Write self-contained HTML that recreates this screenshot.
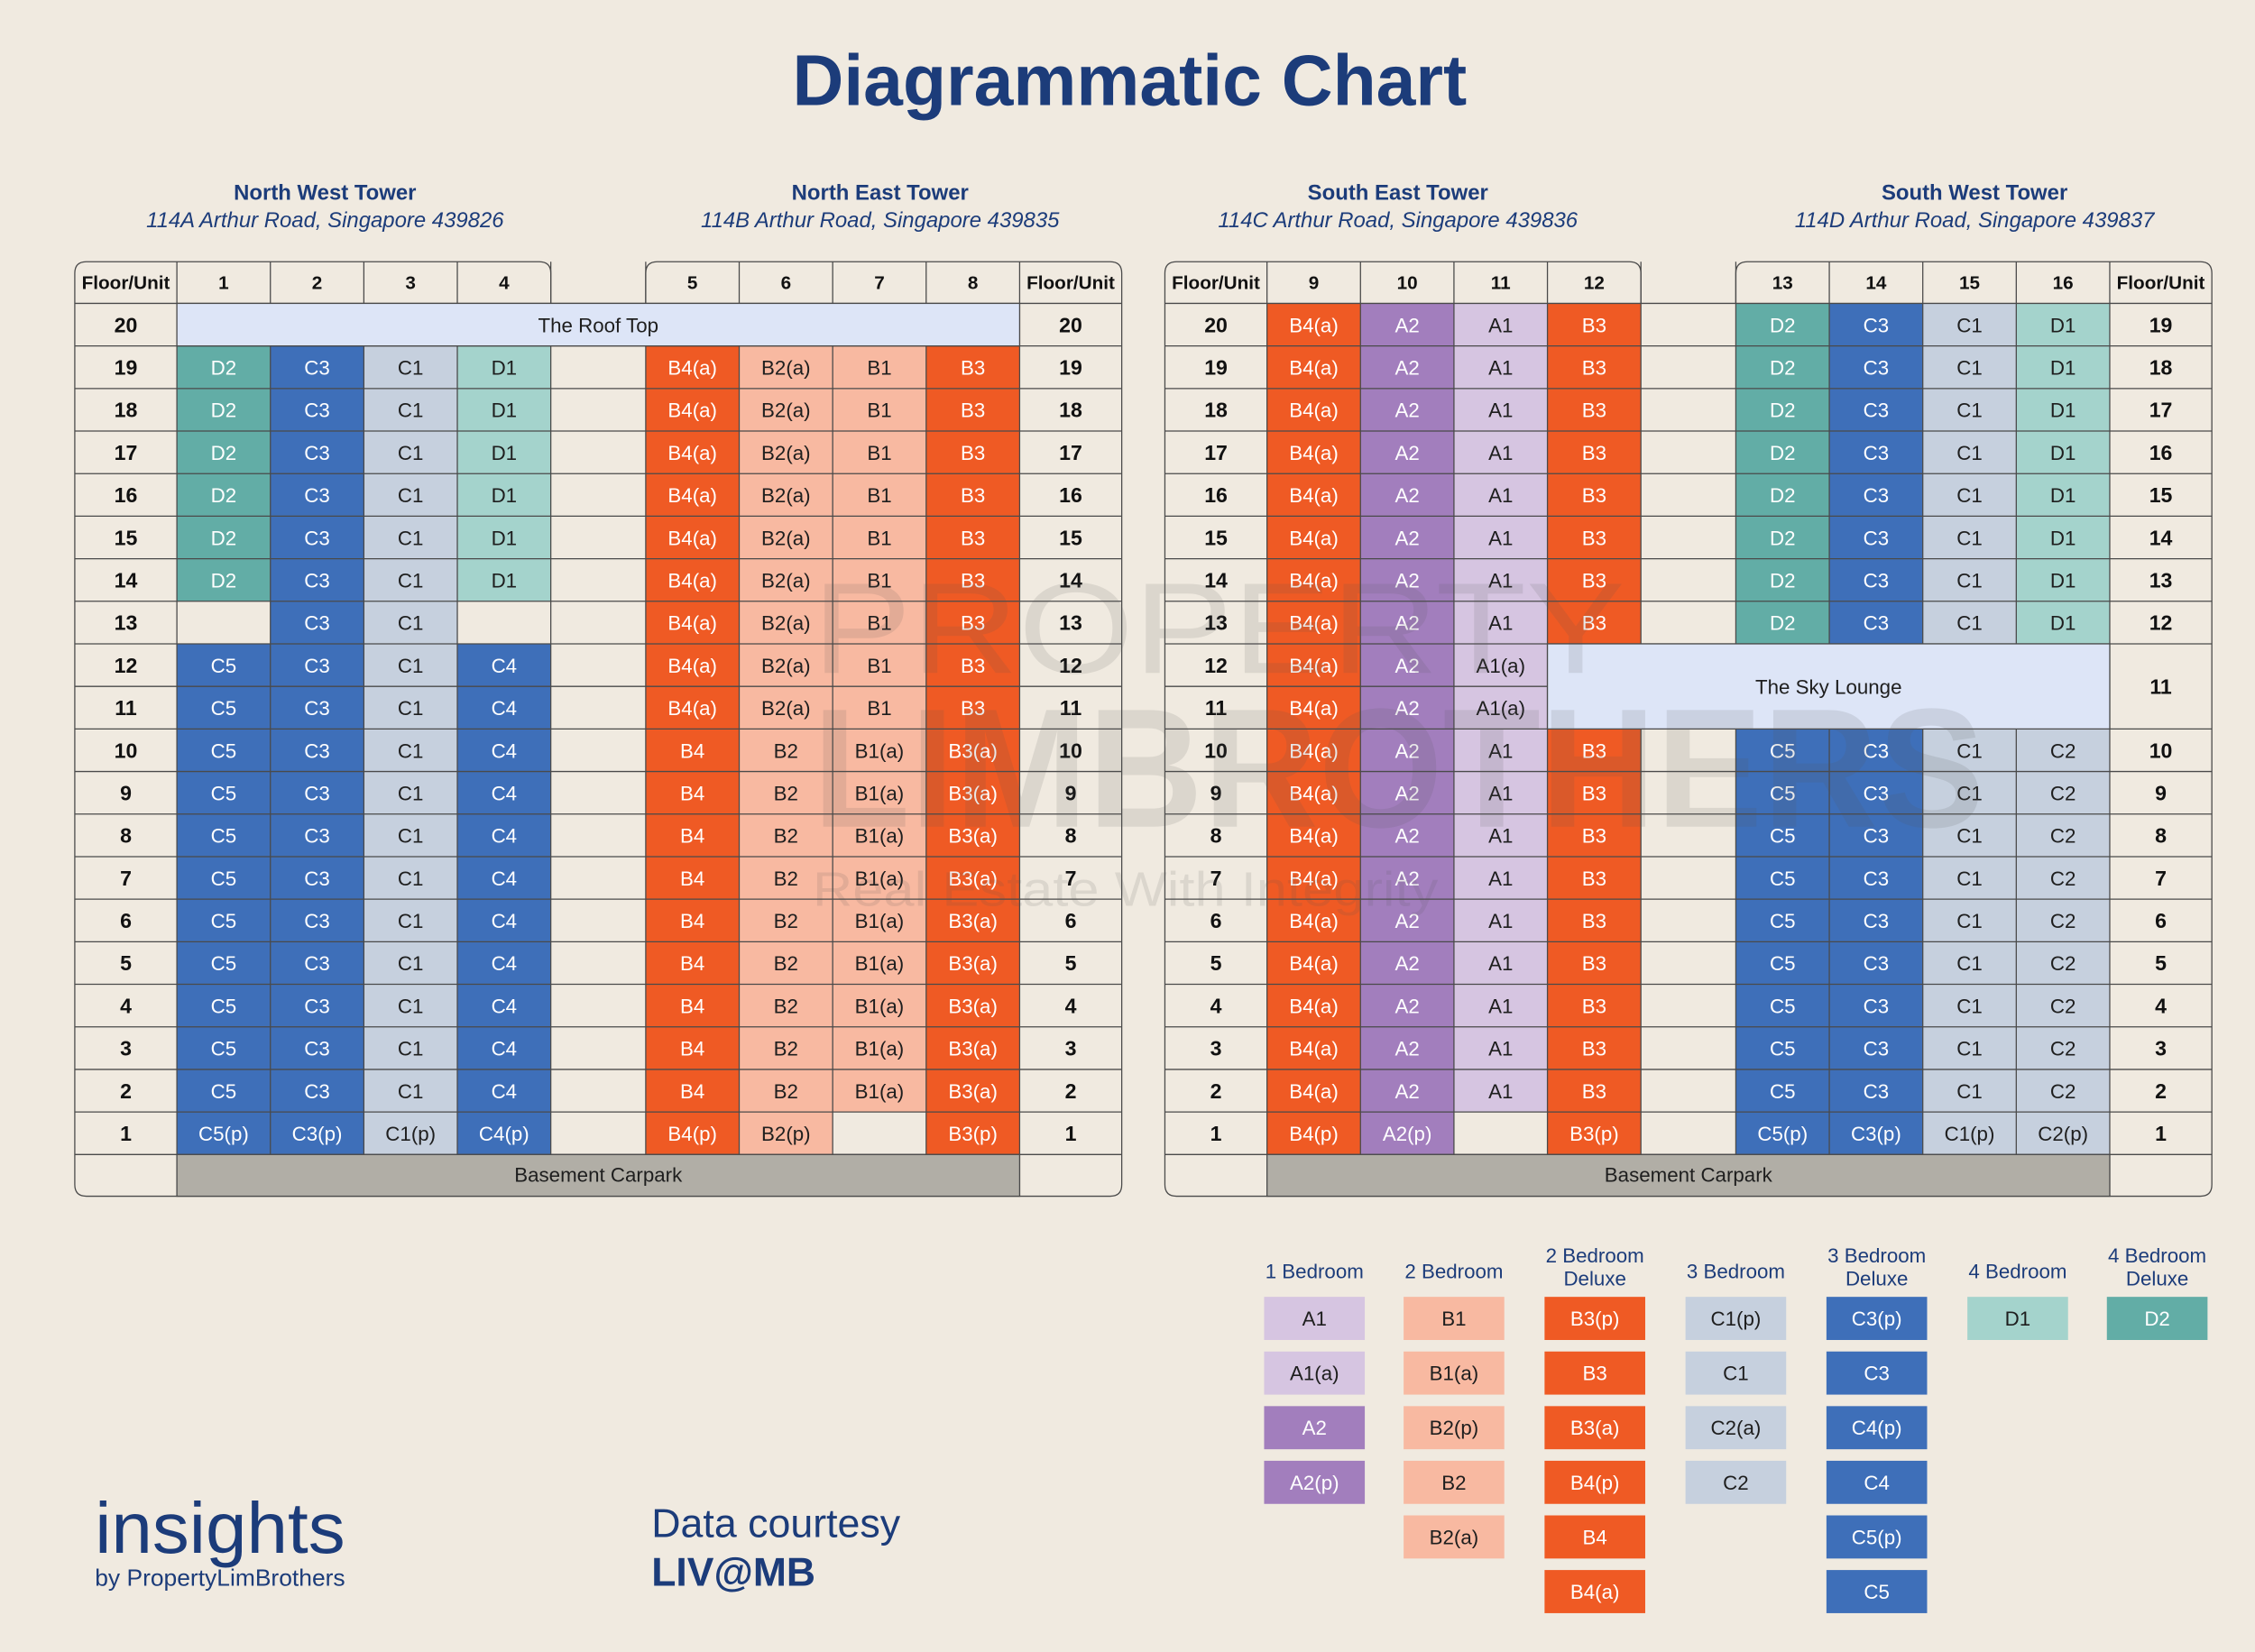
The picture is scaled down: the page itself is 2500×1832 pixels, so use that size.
<!DOCTYPE html>
<html><head><meta charset="utf-8"><style>
html,body{margin:0;padding:0;background:#f0eae0;}
svg{display:block}
text{font-family:"Liberation Sans",sans-serif;}
.c{font-size:14px;text-anchor:middle;}
.w{fill:#fff}
.d{fill:#1e1e1e}
.f{font-size:14.5px;font-weight:bold;text-anchor:middle;fill:#111}
.h{font-size:13px;font-weight:bold;text-anchor:middle;fill:#111}
.n{fill:#1c3c7a}
.ln{stroke:#4a4a4a;stroke-width:0.8;fill:none}
</style></head><body>
<svg width="2500" height="1832" viewBox="0 0 1568 1149" xmlns="http://www.w3.org/2000/svg">
<rect width="1568" height="1149" fill="#f0eae0"/>
<text x="785.5" y="73" font-size="50" font-weight="bold" text-anchor="middle" class="n" textLength="469" lengthAdjust="spacingAndGlyphs">Diagrammatic Chart</text>
<g class="n" text-anchor="middle">
<text x="226" y="139" font-size="15" font-weight="bold">North West Tower</text>
<text x="226" y="158" font-size="15" font-style="italic">114A Arthur Road, Singapore 439826</text>
<text x="612" y="139" font-size="15" font-weight="bold">North East Tower</text>
<text x="612" y="158" font-size="15" font-style="italic">114B Arthur Road, Singapore 439835</text>
<text x="972" y="139" font-size="15" font-weight="bold">South East Tower</text>
<text x="972" y="158" font-size="15" font-style="italic">114C Arthur Road, Singapore 439836</text>
<text x="1373" y="139" font-size="15" font-weight="bold">South West Tower</text>
<text x="1373" y="158" font-size="15" font-style="italic">114D Arthur Road, Singapore 439837</text>
</g>

<!-- fills left -->
<rect x="123" y="240.6" width="65" height="177.6" fill="#62ada6"/>
<rect x="123" y="447.8" width="65" height="355.2" fill="#3e6fb9"/>
<rect x="188" y="240.6" width="65" height="562.4" fill="#3e6fb9"/>
<rect x="253" y="240.6" width="65" height="562.4" fill="#c6d0de"/>
<rect x="318" y="240.6" width="65" height="177.6" fill="#a4d3cc"/>
<rect x="318" y="447.8" width="65" height="355.2" fill="#3e6fb9"/>
<rect x="449" y="240.6" width="65" height="562.4" fill="#ef5a24"/>
<rect x="514" y="240.6" width="65" height="562.4" fill="#f8b9a1"/>
<rect x="579" y="240.6" width="65" height="532.8" fill="#f8b9a1"/>
<rect x="644" y="240.6" width="65" height="562.4" fill="#ef5a24"/>
<!-- fills right -->
<rect x="881" y="211" width="65" height="592" fill="#ef5a24"/>
<rect x="946" y="211" width="65" height="592" fill="#a27ebd"/>
<rect x="1011" y="211" width="65" height="562.4" fill="#d6c5e1"/>
<rect x="1076" y="211" width="65" height="236.8" fill="#ef5a24"/>
<rect x="1076" y="507" width="65" height="296" fill="#ef5a24"/>
<rect x="1207" y="211" width="65" height="236.8" fill="#62ada6"/>
<rect x="1207" y="507" width="65" height="296" fill="#3e6fb9"/>
<rect x="1272" y="211" width="65" height="236.8" fill="#3e6fb9"/>
<rect x="1272" y="507" width="65" height="296" fill="#3e6fb9"/>
<rect x="1337" y="211" width="65" height="236.8" fill="#c6d0de"/>
<rect x="1337" y="507" width="65" height="296" fill="#c6d0de"/>
<rect x="1402" y="211" width="65" height="236.8" fill="#a4d3cc"/>
<rect x="1402" y="507" width="65" height="296" fill="#c6d0de"/>

<!-- grid lines -->
<g class="ln">
<path d="M52 211H780M52 240.6H780M52 270.2H780M52 299.8H780M52 329.4H780M52 359H780M52 388.6H780M52 418.2H780M52 447.8H780M52 477.4H780M52 507H780M52 536.6H780M52 566.2H780M52 595.8H780M52 625.4H780M52 655H780M52 684.6H780M52 714.2H780M52 743.8H780M52 773.4H780M52 803H780"/>
<path d="M810 211H1538M810 240.6H1538M810 270.2H1538M810 299.8H1538M810 329.4H1538M810 359H1538M810 388.6H1538M810 418.2H1538M810 447.8H1538M810 477.4H1076M810 507H1538M810 536.6H1538M810 566.2H1538M810 595.8H1538M810 625.4H1538M810 655H1538M810 684.6H1538M810 714.2H1538M810 743.8H1538M810 773.4H1538M810 803H1538"/>
<path d="M123 182V832M188 182V803M253 182V803M318 182V803M383 182V803M449 182V803M514 182V803M579 182V803M644 182V803M709 182V832"/>
<path d="M881 182V832M946 182V803M1011 182V803M1076 182V803M1141 182V803M1207 182V803M1272 182V803M1337 182V803M1402 182V803M1467 182V832"/>
<path d="M52 211V824Q52 832 60 832H772Q780 832 780 824V211"/>
<path d="M52 211V190Q52 182 60 182H375Q383 182 383 190V211M449 211V190Q449 182 457 182H772Q780 182 780 190V211"/>
<path d="M810 211V824Q810 832 818 832H1530Q1538 832 1538 824V211"/>
<path d="M810 211V190Q810 182 818 182H1133Q1141 182 1141 190V211M1207 211V190Q1207 182 1215 182H1530Q1538 182 1538 190V211"/>
</g>
<rect x="123" y="211" width="586" height="29.6" fill="#dde5f7" stroke="#4a4a4a" stroke-width="0.8"/>
<rect x="123" y="803" width="586" height="29" fill="#b1aea6" stroke="#4a4a4a" stroke-width="0.8"/>
<rect x="881" y="803" width="586" height="29" fill="#b1aea6" stroke="#4a4a4a" stroke-width="0.8"/>
<rect x="1076" y="447.8" width="391" height="59.2" fill="#dde5f7" stroke="#4a4a4a" stroke-width="0.8"/>
<text x="1271.5" y="482.5" class="c d" font-size="16">The Sky Lounge</text>
<text x="416" y="231" class="c d" font-size="16">The Roof Top</text>
<text x="416" y="822" class="c d" font-size="15">Basement Carpark</text>
<text x="1174" y="822" class="c d" font-size="15">Basement Carpark</text>

<!-- headers -->
<g class="h">
<text x="87.5" y="201">Floor/Unit</text><text x="155.5" y="201">1</text><text x="220.5" y="201">2</text><text x="285.5" y="201">3</text><text x="350.5" y="201">4</text>
<text x="481.5" y="201">5</text><text x="546.5" y="201">6</text><text x="611.5" y="201">7</text><text x="676.5" y="201">8</text><text x="744.5" y="201">Floor/Unit</text>
<text x="845.5" y="201">Floor/Unit</text><text x="913.5" y="201">9</text><text x="978.5" y="201">10</text><text x="1043.5" y="201">11</text><text x="1108.5" y="201">12</text>
<text x="1239.5" y="201">13</text><text x="1304.5" y="201">14</text><text x="1369.5" y="201">15</text><text x="1434.5" y="201">16</text><text x="1502.5" y="201">Floor/Unit</text>
</g>
<!-- floor labels -->
<g class="f">
<text x="87.5"><tspan x="87.5" y="231">20</tspan><tspan x="87.5" y="260.6">19</tspan><tspan x="87.5" y="290.2">18</tspan><tspan x="87.5" y="319.8">17</tspan><tspan x="87.5" y="349.4">16</tspan><tspan x="87.5" y="379">15</tspan><tspan x="87.5" y="408.6">14</tspan><tspan x="87.5" y="438.2">13</tspan><tspan x="87.5" y="467.8">12</tspan><tspan x="87.5" y="497.4">11</tspan><tspan x="87.5" y="527">10</tspan><tspan x="87.5" y="556.6">9</tspan><tspan x="87.5" y="586.2">8</tspan><tspan x="87.5" y="615.8">7</tspan><tspan x="87.5" y="645.4">6</tspan><tspan x="87.5" y="675">5</tspan><tspan x="87.5" y="704.6">4</tspan><tspan x="87.5" y="734.2">3</tspan><tspan x="87.5" y="763.8">2</tspan><tspan x="87.5" y="793.4">1</tspan></text>
<text x="744.5"><tspan x="744.5" y="231">20</tspan><tspan x="744.5" y="260.6">19</tspan><tspan x="744.5" y="290.2">18</tspan><tspan x="744.5" y="319.8">17</tspan><tspan x="744.5" y="349.4">16</tspan><tspan x="744.5" y="379">15</tspan><tspan x="744.5" y="408.6">14</tspan><tspan x="744.5" y="438.2">13</tspan><tspan x="744.5" y="467.8">12</tspan><tspan x="744.5" y="497.4">11</tspan><tspan x="744.5" y="527">10</tspan><tspan x="744.5" y="556.6">9</tspan><tspan x="744.5" y="586.2">8</tspan><tspan x="744.5" y="615.8">7</tspan><tspan x="744.5" y="645.4">6</tspan><tspan x="744.5" y="675">5</tspan><tspan x="744.5" y="704.6">4</tspan><tspan x="744.5" y="734.2">3</tspan><tspan x="744.5" y="763.8">2</tspan><tspan x="744.5" y="793.4">1</tspan></text>
<text x="845.5"><tspan x="845.5" y="231">20</tspan><tspan x="845.5" y="260.6">19</tspan><tspan x="845.5" y="290.2">18</tspan><tspan x="845.5" y="319.8">17</tspan><tspan x="845.5" y="349.4">16</tspan><tspan x="845.5" y="379">15</tspan><tspan x="845.5" y="408.6">14</tspan><tspan x="845.5" y="438.2">13</tspan><tspan x="845.5" y="467.8">12</tspan><tspan x="845.5" y="497.4">11</tspan><tspan x="845.5" y="527">10</tspan><tspan x="845.5" y="556.6">9</tspan><tspan x="845.5" y="586.2">8</tspan><tspan x="845.5" y="615.8">7</tspan><tspan x="845.5" y="645.4">6</tspan><tspan x="845.5" y="675">5</tspan><tspan x="845.5" y="704.6">4</tspan><tspan x="845.5" y="734.2">3</tspan><tspan x="845.5" y="763.8">2</tspan><tspan x="845.5" y="793.4">1</tspan></text>
<text x="1502.5"><tspan x="1502.5" y="231">19</tspan><tspan x="1502.5" y="260.6">18</tspan><tspan x="1502.5" y="290.2">17</tspan><tspan x="1502.5" y="319.8">16</tspan><tspan x="1502.5" y="349.4">15</tspan><tspan x="1502.5" y="379">14</tspan><tspan x="1502.5" y="408.6">13</tspan><tspan x="1502.5" y="438.2">12</tspan><tspan x="1502.5" y="482.6">11</tspan><tspan x="1502.5" y="527">10</tspan><tspan x="1502.5" y="556.6">9</tspan><tspan x="1502.5" y="586.2">8</tspan><tspan x="1502.5" y="615.8">7</tspan><tspan x="1502.5" y="645.4">6</tspan><tspan x="1502.5" y="675">5</tspan><tspan x="1502.5" y="704.6">4</tspan><tspan x="1502.5" y="734.2">3</tspan><tspan x="1502.5" y="763.8">2</tspan><tspan x="1502.5" y="793.4">1</tspan></text>
</g>

<!-- NW cells -->
<text class="c w"><tspan x="155.5" y="260.6">D2</tspan><tspan x="155.5" y="290.2">D2</tspan><tspan x="155.5" y="319.8">D2</tspan><tspan x="155.5" y="349.4">D2</tspan><tspan x="155.5" y="379">D2</tspan><tspan x="155.5" y="408.6">D2</tspan><tspan x="155.5" y="467.8">C5</tspan><tspan x="155.5" y="497.4">C5</tspan><tspan x="155.5" y="527">C5</tspan><tspan x="155.5" y="556.6">C5</tspan><tspan x="155.5" y="586.2">C5</tspan><tspan x="155.5" y="615.8">C5</tspan><tspan x="155.5" y="645.4">C5</tspan><tspan x="155.5" y="675">C5</tspan><tspan x="155.5" y="704.6">C5</tspan><tspan x="155.5" y="734.2">C5</tspan><tspan x="155.5" y="763.8">C5</tspan><tspan x="155.5" y="793.4">C5(p)</tspan></text>
<text class="c w"><tspan x="220.5" y="260.6">C3</tspan><tspan x="220.5" y="290.2">C3</tspan><tspan x="220.5" y="319.8">C3</tspan><tspan x="220.5" y="349.4">C3</tspan><tspan x="220.5" y="379">C3</tspan><tspan x="220.5" y="408.6">C3</tspan><tspan x="220.5" y="438.2">C3</tspan><tspan x="220.5" y="467.8">C3</tspan><tspan x="220.5" y="497.4">C3</tspan><tspan x="220.5" y="527">C3</tspan><tspan x="220.5" y="556.6">C3</tspan><tspan x="220.5" y="586.2">C3</tspan><tspan x="220.5" y="615.8">C3</tspan><tspan x="220.5" y="645.4">C3</tspan><tspan x="220.5" y="675">C3</tspan><tspan x="220.5" y="704.6">C3</tspan><tspan x="220.5" y="734.2">C3</tspan><tspan x="220.5" y="763.8">C3</tspan><tspan x="220.5" y="793.4">C3(p)</tspan></text>
<text class="c d"><tspan x="285.5" y="260.6">C1</tspan><tspan x="285.5" y="290.2">C1</tspan><tspan x="285.5" y="319.8">C1</tspan><tspan x="285.5" y="349.4">C1</tspan><tspan x="285.5" y="379">C1</tspan><tspan x="285.5" y="408.6">C1</tspan><tspan x="285.5" y="438.2">C1</tspan><tspan x="285.5" y="467.8">C1</tspan><tspan x="285.5" y="497.4">C1</tspan><tspan x="285.5" y="527">C1</tspan><tspan x="285.5" y="556.6">C1</tspan><tspan x="285.5" y="586.2">C1</tspan><tspan x="285.5" y="615.8">C1</tspan><tspan x="285.5" y="645.4">C1</tspan><tspan x="285.5" y="675">C1</tspan><tspan x="285.5" y="704.6">C1</tspan><tspan x="285.5" y="734.2">C1</tspan><tspan x="285.5" y="763.8">C1</tspan><tspan x="285.5" y="793.4">C1(p)</tspan></text>
<text class="c d"><tspan x="350.5" y="260.6">D1</tspan><tspan x="350.5" y="290.2">D1</tspan><tspan x="350.5" y="319.8">D1</tspan><tspan x="350.5" y="349.4">D1</tspan><tspan x="350.5" y="379">D1</tspan><tspan x="350.5" y="408.6">D1</tspan></text>
<text class="c w"><tspan x="350.5" y="467.8">C4</tspan><tspan x="350.5" y="497.4">C4</tspan><tspan x="350.5" y="527">C4</tspan><tspan x="350.5" y="556.6">C4</tspan><tspan x="350.5" y="586.2">C4</tspan><tspan x="350.5" y="615.8">C4</tspan><tspan x="350.5" y="645.4">C4</tspan><tspan x="350.5" y="675">C4</tspan><tspan x="350.5" y="704.6">C4</tspan><tspan x="350.5" y="734.2">C4</tspan><tspan x="350.5" y="763.8">C4</tspan><tspan x="350.5" y="793.4">C4(p)</tspan></text>
<!-- NE cells -->
<text class="c w"><tspan x="481.5" y="260.6">B4(a)</tspan><tspan x="481.5" y="290.2">B4(a)</tspan><tspan x="481.5" y="319.8">B4(a)</tspan><tspan x="481.5" y="349.4">B4(a)</tspan><tspan x="481.5" y="379">B4(a)</tspan><tspan x="481.5" y="408.6">B4(a)</tspan><tspan x="481.5" y="438.2">B4(a)</tspan><tspan x="481.5" y="467.8">B4(a)</tspan><tspan x="481.5" y="497.4">B4(a)</tspan><tspan x="481.5" y="527">B4</tspan><tspan x="481.5" y="556.6">B4</tspan><tspan x="481.5" y="586.2">B4</tspan><tspan x="481.5" y="615.8">B4</tspan><tspan x="481.5" y="645.4">B4</tspan><tspan x="481.5" y="675">B4</tspan><tspan x="481.5" y="704.6">B4</tspan><tspan x="481.5" y="734.2">B4</tspan><tspan x="481.5" y="763.8">B4</tspan><tspan x="481.5" y="793.4">B4(p)</tspan></text>
<text class="c d"><tspan x="546.5" y="260.6">B2(a)</tspan><tspan x="546.5" y="290.2">B2(a)</tspan><tspan x="546.5" y="319.8">B2(a)</tspan><tspan x="546.5" y="349.4">B2(a)</tspan><tspan x="546.5" y="379">B2(a)</tspan><tspan x="546.5" y="408.6">B2(a)</tspan><tspan x="546.5" y="438.2">B2(a)</tspan><tspan x="546.5" y="467.8">B2(a)</tspan><tspan x="546.5" y="497.4">B2(a)</tspan><tspan x="546.5" y="527">B2</tspan><tspan x="546.5" y="556.6">B2</tspan><tspan x="546.5" y="586.2">B2</tspan><tspan x="546.5" y="615.8">B2</tspan><tspan x="546.5" y="645.4">B2</tspan><tspan x="546.5" y="675">B2</tspan><tspan x="546.5" y="704.6">B2</tspan><tspan x="546.5" y="734.2">B2</tspan><tspan x="546.5" y="763.8">B2</tspan><tspan x="546.5" y="793.4">B2(p)</tspan></text>
<text class="c d"><tspan x="611.5" y="260.6">B1</tspan><tspan x="611.5" y="290.2">B1</tspan><tspan x="611.5" y="319.8">B1</tspan><tspan x="611.5" y="349.4">B1</tspan><tspan x="611.5" y="379">B1</tspan><tspan x="611.5" y="408.6">B1</tspan><tspan x="611.5" y="438.2">B1</tspan><tspan x="611.5" y="467.8">B1</tspan><tspan x="611.5" y="497.4">B1</tspan><tspan x="611.5" y="527">B1(a)</tspan><tspan x="611.5" y="556.6">B1(a)</tspan><tspan x="611.5" y="586.2">B1(a)</tspan><tspan x="611.5" y="615.8">B1(a)</tspan><tspan x="611.5" y="645.4">B1(a)</tspan><tspan x="611.5" y="675">B1(a)</tspan><tspan x="611.5" y="704.6">B1(a)</tspan><tspan x="611.5" y="734.2">B1(a)</tspan><tspan x="611.5" y="763.8">B1(a)</tspan></text>
<text class="c w"><tspan x="676.5" y="260.6">B3</tspan><tspan x="676.5" y="290.2">B3</tspan><tspan x="676.5" y="319.8">B3</tspan><tspan x="676.5" y="349.4">B3</tspan><tspan x="676.5" y="379">B3</tspan><tspan x="676.5" y="408.6">B3</tspan><tspan x="676.5" y="438.2">B3</tspan><tspan x="676.5" y="467.8">B3</tspan><tspan x="676.5" y="497.4">B3</tspan><tspan x="676.5" y="527">B3(a)</tspan><tspan x="676.5" y="556.6">B3(a)</tspan><tspan x="676.5" y="586.2">B3(a)</tspan><tspan x="676.5" y="615.8">B3(a)</tspan><tspan x="676.5" y="645.4">B3(a)</tspan><tspan x="676.5" y="675">B3(a)</tspan><tspan x="676.5" y="704.6">B3(a)</tspan><tspan x="676.5" y="734.2">B3(a)</tspan><tspan x="676.5" y="763.8">B3(a)</tspan><tspan x="676.5" y="793.4">B3(p)</tspan></text>
<!-- SE cells -->
<text class="c w"><tspan x="913.5" y="231">B4(a)</tspan><tspan x="913.5" y="260.6">B4(a)</tspan><tspan x="913.5" y="290.2">B4(a)</tspan><tspan x="913.5" y="319.8">B4(a)</tspan><tspan x="913.5" y="349.4">B4(a)</tspan><tspan x="913.5" y="379">B4(a)</tspan><tspan x="913.5" y="408.6">B4(a)</tspan><tspan x="913.5" y="438.2">B4(a)</tspan><tspan x="913.5" y="467.8">B4(a)</tspan><tspan x="913.5" y="497.4">B4(a)</tspan><tspan x="913.5" y="527">B4(a)</tspan><tspan x="913.5" y="556.6">B4(a)</tspan><tspan x="913.5" y="586.2">B4(a)</tspan><tspan x="913.5" y="615.8">B4(a)</tspan><tspan x="913.5" y="645.4">B4(a)</tspan><tspan x="913.5" y="675">B4(a)</tspan><tspan x="913.5" y="704.6">B4(a)</tspan><tspan x="913.5" y="734.2">B4(a)</tspan><tspan x="913.5" y="763.8">B4(a)</tspan><tspan x="913.5" y="793.4">B4(p)</tspan></text>
<text class="c w"><tspan x="978.5" y="231">A2</tspan><tspan x="978.5" y="260.6">A2</tspan><tspan x="978.5" y="290.2">A2</tspan><tspan x="978.5" y="319.8">A2</tspan><tspan x="978.5" y="349.4">A2</tspan><tspan x="978.5" y="379">A2</tspan><tspan x="978.5" y="408.6">A2</tspan><tspan x="978.5" y="438.2">A2</tspan><tspan x="978.5" y="467.8">A2</tspan><tspan x="978.5" y="497.4">A2</tspan><tspan x="978.5" y="527">A2</tspan><tspan x="978.5" y="556.6">A2</tspan><tspan x="978.5" y="586.2">A2</tspan><tspan x="978.5" y="615.8">A2</tspan><tspan x="978.5" y="645.4">A2</tspan><tspan x="978.5" y="675">A2</tspan><tspan x="978.5" y="704.6">A2</tspan><tspan x="978.5" y="734.2">A2</tspan><tspan x="978.5" y="763.8">A2</tspan><tspan x="978.5" y="793.4">A2(p)</tspan></text>
<text class="c d"><tspan x="1043.5" y="231">A1</tspan><tspan x="1043.5" y="260.6">A1</tspan><tspan x="1043.5" y="290.2">A1</tspan><tspan x="1043.5" y="319.8">A1</tspan><tspan x="1043.5" y="349.4">A1</tspan><tspan x="1043.5" y="379">A1</tspan><tspan x="1043.5" y="408.6">A1</tspan><tspan x="1043.5" y="438.2">A1</tspan><tspan x="1043.5" y="467.8">A1(a)</tspan><tspan x="1043.5" y="497.4">A1(a)</tspan><tspan x="1043.5" y="527">A1</tspan><tspan x="1043.5" y="556.6">A1</tspan><tspan x="1043.5" y="586.2">A1</tspan><tspan x="1043.5" y="615.8">A1</tspan><tspan x="1043.5" y="645.4">A1</tspan><tspan x="1043.5" y="675">A1</tspan><tspan x="1043.5" y="704.6">A1</tspan><tspan x="1043.5" y="734.2">A1</tspan><tspan x="1043.5" y="763.8">A1</tspan></text>
<text class="c w"><tspan x="1108.5" y="231">B3</tspan><tspan x="1108.5" y="260.6">B3</tspan><tspan x="1108.5" y="290.2">B3</tspan><tspan x="1108.5" y="319.8">B3</tspan><tspan x="1108.5" y="349.4">B3</tspan><tspan x="1108.5" y="379">B3</tspan><tspan x="1108.5" y="408.6">B3</tspan><tspan x="1108.5" y="438.2">B3</tspan><tspan x="1108.5" y="527">B3</tspan><tspan x="1108.5" y="556.6">B3</tspan><tspan x="1108.5" y="586.2">B3</tspan><tspan x="1108.5" y="615.8">B3</tspan><tspan x="1108.5" y="645.4">B3</tspan><tspan x="1108.5" y="675">B3</tspan><tspan x="1108.5" y="704.6">B3</tspan><tspan x="1108.5" y="734.2">B3</tspan><tspan x="1108.5" y="763.8">B3</tspan><tspan x="1108.5" y="793.4">B3(p)</tspan></text>
<!-- SW cells -->
<text class="c w"><tspan x="1239.5" y="231">D2</tspan><tspan x="1239.5" y="260.6">D2</tspan><tspan x="1239.5" y="290.2">D2</tspan><tspan x="1239.5" y="319.8">D2</tspan><tspan x="1239.5" y="349.4">D2</tspan><tspan x="1239.5" y="379">D2</tspan><tspan x="1239.5" y="408.6">D2</tspan><tspan x="1239.5" y="438.2">D2</tspan><tspan x="1239.5" y="527">C5</tspan><tspan x="1239.5" y="556.6">C5</tspan><tspan x="1239.5" y="586.2">C5</tspan><tspan x="1239.5" y="615.8">C5</tspan><tspan x="1239.5" y="645.4">C5</tspan><tspan x="1239.5" y="675">C5</tspan><tspan x="1239.5" y="704.6">C5</tspan><tspan x="1239.5" y="734.2">C5</tspan><tspan x="1239.5" y="763.8">C5</tspan><tspan x="1239.5" y="793.4">C5(p)</tspan></text>
<text class="c w"><tspan x="1304.5" y="231">C3</tspan><tspan x="1304.5" y="260.6">C3</tspan><tspan x="1304.5" y="290.2">C3</tspan><tspan x="1304.5" y="319.8">C3</tspan><tspan x="1304.5" y="349.4">C3</tspan><tspan x="1304.5" y="379">C3</tspan><tspan x="1304.5" y="408.6">C3</tspan><tspan x="1304.5" y="438.2">C3</tspan><tspan x="1304.5" y="527">C3</tspan><tspan x="1304.5" y="556.6">C3</tspan><tspan x="1304.5" y="586.2">C3</tspan><tspan x="1304.5" y="615.8">C3</tspan><tspan x="1304.5" y="645.4">C3</tspan><tspan x="1304.5" y="675">C3</tspan><tspan x="1304.5" y="704.6">C3</tspan><tspan x="1304.5" y="734.2">C3</tspan><tspan x="1304.5" y="763.8">C3</tspan><tspan x="1304.5" y="793.4">C3(p)</tspan></text>
<text class="c d"><tspan x="1369.5" y="231">C1</tspan><tspan x="1369.5" y="260.6">C1</tspan><tspan x="1369.5" y="290.2">C1</tspan><tspan x="1369.5" y="319.8">C1</tspan><tspan x="1369.5" y="349.4">C1</tspan><tspan x="1369.5" y="379">C1</tspan><tspan x="1369.5" y="408.6">C1</tspan><tspan x="1369.5" y="438.2">C1</tspan><tspan x="1369.5" y="527">C1</tspan><tspan x="1369.5" y="556.6">C1</tspan><tspan x="1369.5" y="586.2">C1</tspan><tspan x="1369.5" y="615.8">C1</tspan><tspan x="1369.5" y="645.4">C1</tspan><tspan x="1369.5" y="675">C1</tspan><tspan x="1369.5" y="704.6">C1</tspan><tspan x="1369.5" y="734.2">C1</tspan><tspan x="1369.5" y="763.8">C1</tspan><tspan x="1369.5" y="793.4">C1(p)</tspan></text>
<text class="c d"><tspan x="1434.5" y="231">D1</tspan><tspan x="1434.5" y="260.6">D1</tspan><tspan x="1434.5" y="290.2">D1</tspan><tspan x="1434.5" y="319.8">D1</tspan><tspan x="1434.5" y="349.4">D1</tspan><tspan x="1434.5" y="379">D1</tspan><tspan x="1434.5" y="408.6">D1</tspan><tspan x="1434.5" y="438.2">D1</tspan><tspan x="1434.5" y="527">C2</tspan><tspan x="1434.5" y="556.6">C2</tspan><tspan x="1434.5" y="586.2">C2</tspan><tspan x="1434.5" y="615.8">C2</tspan><tspan x="1434.5" y="645.4">C2</tspan><tspan x="1434.5" y="675">C2</tspan><tspan x="1434.5" y="704.6">C2</tspan><tspan x="1434.5" y="734.2">C2</tspan><tspan x="1434.5" y="763.8">C2</tspan><tspan x="1434.5" y="793.4">C2(p)</tspan></text>

<!-- watermark overlay -->
<g opacity="0.13" fill="#555">
<text x="565" y="468" font-size="90" textLength="565" lengthAdjust="spacingAndGlyphs">PROPERTY</text>
<text x="565" y="575" font-size="118" font-weight="bold" textLength="815" lengthAdjust="spacingAndGlyphs">LIMBROTHERS</text>
<text x="565" y="630" font-size="34" textLength="435" lengthAdjust="spacingAndGlyphs">Real Estate With Integrity</text>
</g>

<!-- legend -->
<g class="n" font-size="14" text-anchor="middle">
<text x="914" y="889">1 Bedroom</text>
<text x="1011" y="889">2 Bedroom</text>
<text x="1109" y="878">2 Bedroom</text><text x="1109" y="894">Deluxe</text>
<text x="1207" y="889">3 Bedroom</text>
<text x="1305" y="878">3 Bedroom</text><text x="1305" y="894">Deluxe</text>
<text x="1403" y="889">4 Bedroom</text>
<text x="1500" y="878">4 Bedroom</text><text x="1500" y="894">Deluxe</text>
</g>
<g>
<rect x="879" y="902" width="70" height="30" fill="#d6c5e1"/><rect x="879" y="940" width="70" height="30" fill="#d6c5e1"/><rect x="879" y="978" width="70" height="30" fill="#a27ebd"/><rect x="879" y="1016" width="70" height="30" fill="#a27ebd"/>
<rect x="976" y="902" width="70" height="30" fill="#f8b9a1"/><rect x="976" y="940" width="70" height="30" fill="#f8b9a1"/><rect x="976" y="978" width="70" height="30" fill="#f8b9a1"/><rect x="976" y="1016" width="70" height="30" fill="#f8b9a1"/><rect x="976" y="1054" width="70" height="30" fill="#f8b9a1"/>
<rect x="1074" y="902" width="70" height="30" fill="#ef5a24"/><rect x="1074" y="940" width="70" height="30" fill="#ef5a24"/><rect x="1074" y="978" width="70" height="30" fill="#ef5a24"/><rect x="1074" y="1016" width="70" height="30" fill="#ef5a24"/><rect x="1074" y="1054" width="70" height="30" fill="#ef5a24"/><rect x="1074" y="1092" width="70" height="30" fill="#ef5a24"/>
<rect x="1172" y="902" width="70" height="30" fill="#c6d0de"/><rect x="1172" y="940" width="70" height="30" fill="#c6d0de"/><rect x="1172" y="978" width="70" height="30" fill="#c6d0de"/><rect x="1172" y="1016" width="70" height="30" fill="#c6d0de"/>
<rect x="1270" y="902" width="70" height="30" fill="#3e6fb9"/><rect x="1270" y="940" width="70" height="30" fill="#3e6fb9"/><rect x="1270" y="978" width="70" height="30" fill="#3e6fb9"/><rect x="1270" y="1016" width="70" height="30" fill="#3e6fb9"/><rect x="1270" y="1054" width="70" height="30" fill="#3e6fb9"/><rect x="1270" y="1092" width="70" height="30" fill="#3e6fb9"/>
<rect x="1368" y="902" width="70" height="30" fill="#a4d3cc"/>
<rect x="1465" y="902" width="70" height="30" fill="#62ada6"/>
</g>
<text class="c d"><tspan x="914" y="922">A1</tspan><tspan x="914" y="960">A1(a)</tspan></text>
<text class="c w"><tspan x="914" y="998">A2</tspan><tspan x="914" y="1036">A2(p)</tspan></text>
<text class="c d"><tspan x="1011" y="922">B1</tspan><tspan x="1011" y="960">B1(a)</tspan><tspan x="1011" y="998">B2(p)</tspan><tspan x="1011" y="1036">B2</tspan><tspan x="1011" y="1074">B2(a)</tspan></text>
<text class="c w"><tspan x="1109" y="922">B3(p)</tspan><tspan x="1109" y="960">B3</tspan><tspan x="1109" y="998">B3(a)</tspan><tspan x="1109" y="1036">B4(p)</tspan><tspan x="1109" y="1074">B4</tspan><tspan x="1109" y="1112">B4(a)</tspan></text>
<text class="c d"><tspan x="1207" y="922">C1(p)</tspan><tspan x="1207" y="960">C1</tspan><tspan x="1207" y="998">C2(a)</tspan><tspan x="1207" y="1036">C2</tspan></text>
<text class="c w"><tspan x="1305" y="922">C3(p)</tspan><tspan x="1305" y="960">C3</tspan><tspan x="1305" y="998">C4(p)</tspan><tspan x="1305" y="1036">C4</tspan><tspan x="1305" y="1074">C5(p)</tspan><tspan x="1305" y="1112">C5</tspan></text>
<text class="c d" x="1403" y="922">D1</text>
<text class="c w" x="1500" y="922">D2</text>

<!-- footer -->
<text x="66" y="1080" font-size="50" class="n" textLength="174" lengthAdjust="spacingAndGlyphs">insights</text>
<text x="66" y="1103" font-size="16" class="n" textLength="174" lengthAdjust="spacingAndGlyphs">by PropertyLimBrothers</text>
<text x="453" y="1069" font-size="28" class="n" textLength="173" lengthAdjust="spacingAndGlyphs">Data courtesy</text>
<text x="453" y="1103" font-size="28" font-weight="bold" class="n" textLength="114" lengthAdjust="spacingAndGlyphs">LIV@MB</text>
</svg>
</body></html>
